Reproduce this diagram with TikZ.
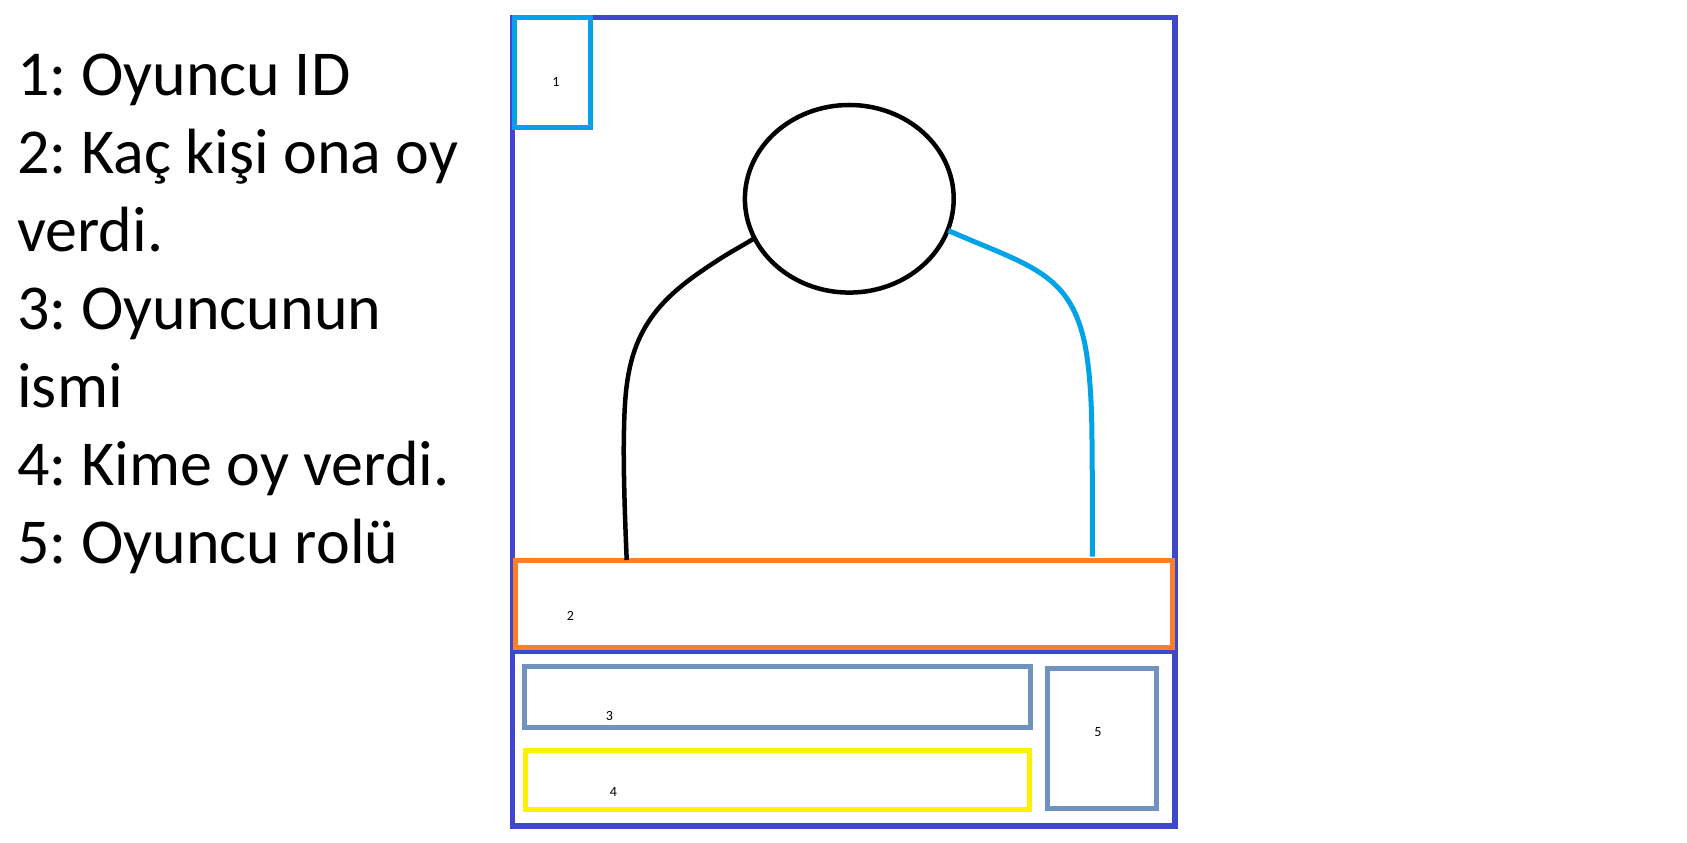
\documentclass[tikz,border=0pt]{standalone}
\usepackage{fontspec}
\setmainfont{Carlito}
\usepackage{tikz}

\definecolor{framecol}{HTML}{3F48CC}
\definecolor{cyancol}{HTML}{00A2E8}
\definecolor{orangecol}{HTML}{FF7F27}
\definecolor{steelcol}{HTML}{7092BE}
\definecolor{yellowcol}{HTML}{FFF200}

\tikzset{
  frameline/.style={line width=0.105cm},
  boxline/.style={line width=0.1cm},
  bodyline/.style={line width=0.09cm},
  digit/.style={font=\fontsize{8}{10}\selectfont, inner sep=0pt},
}

\begin{document}
\frenchspacing
\begin{tikzpicture}
\useasboundingbox (0,0) rectangle (33.74,16.86);

\node[font=\fontsize{36.4}{44.4}\selectfont, align=left, anchor=north west, inner sep=0pt] (legend) at (0.34,15.78) {1: Oyuncu ID\\2: Kaç kişi ona oy\\verdi.\\3: Oyuncunun\\ismi\\4: Kime oy verdi.\\5: Oyuncu rolü};

\draw[frameline, framecol] (10.25,0.34) rectangle (23.5,16.506);
\draw[frameline, framecol] (10.25,3.826) -- (23.5,3.826);

\draw[boxline, cyancol] (10.28,14.3) rectangle (11.8,16.5);
\draw[boxline, orangecol] (10.31,3.914) rectangle (23.456,5.654);
\draw[boxline, steelcol] (10.49,2.306) rectangle (20.6,3.534);
\draw[boxline, yellowcol] (10.51,0.674) rectangle (20.59,1.854);
\draw[boxline, steelcol] (20.946,0.694) rectangle (23.12,3.494);

\draw[bodyline] (16.986,12.884) ellipse (2.088 and 1.876);
\draw[bodyline] (15.066,12.08) .. controls (14.85,11.95) and (14.65,11.84) .. (14.466,11.726)
  .. controls (13.6,11.17) and (12.85,10.65) .. (12.6,9.526)
  .. controls (12.52,9.17) and (12.49,8.8) .. (12.48,8.26)
  .. controls (12.46,7.6) and (12.5,6.46) .. (12.534,5.66);
\draw[bodyline, line width=0.1cm, cyancol] (18.966,12.246) .. controls (19.2,12.15) and (19.4,12.06) .. (19.6,11.98)
  .. controls (20.78,11.49) and (21.448,11.22) .. (21.7,9.96)
  .. controls (21.78,9.56) and (21.82,9) .. (21.834,8.46)
  .. controls (21.85,7.6) and (21.846,6.6) .. (21.846,5.726);

\node[digit] (idnum) at (11.12,15.22) {1};
\node[digit] (votesnum) at (11.41,4.55) {2};
\node[digit] (namenum) at (12.19,2.55) {3};
\node[digit] (targetnum) at (12.27,1.03) {4};
\node[digit] (rolenum) at (21.96,2.21) {5};
\end{tikzpicture}
\end{document}
